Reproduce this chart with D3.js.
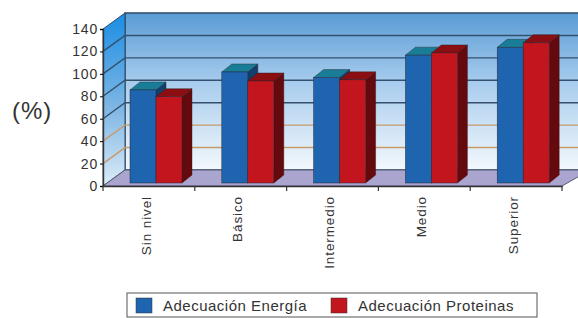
<!DOCTYPE html>
<html>
<head>
<meta charset="utf-8">
<script src="https://cdn.jsdelivr.net/npm/d3@7"></script>
<style>
  body { margin: 0; background: #fff; }
  svg { display: block; font-family: Arial, "Liberation Sans", sans-serif; }
</style>
</head>
<body>
<svg width="578" height="318"></svg>
<script>
const categories = ['Sin nivel', 'Básico', 'Intermedio', 'Medio', 'Superior'];
const series = ['Adecuación Energía', 'Adecuación Proteinas'];
const energia = [83, 99, 94, 114, 121];
const proteinas = [77, 91, 92, 116, 125];
const yTicks = [0, 20, 40, 60, 80, 100, 120, 140];

const svg = d3.select('svg');

// front plane scales, depth is an offset (dx, dy)
const x = d3.scaleBand().domain(categories).range([103, 562]);
const y = d3.scaleLinear().domain([0, 140]).range([186, 29]);
const depth = { dx: 22, dy: -16 };
const barOff = { dx: 0, dy: -3 };
const barDepth = { dx: 10, dy: -8 };
const xs = d3.scaleBand().domain(series).range([27, 79]);

const defs = svg.append('defs');
const backGrad = defs.append('linearGradient').attr('id', 'back').attr('x1', 0).attr('y1', 0).attr('x2', 0).attr('y2', 1);
backGrad.append('stop').attr('offset', '0%').attr('stop-color', '#5a9cd6');
backGrad.append('stop').attr('offset', '45%').attr('stop-color', '#a9cdee');
backGrad.append('stop').attr('offset', '100%').attr('stop-color', '#f3f8fc');
const sideGrad = defs.append('linearGradient').attr('id', 'side').attr('x1', 0).attr('y1', 0).attr('x2', 0).attr('y2', 1);
sideGrad.append('stop').attr('offset', '0%').attr('stop-color', '#1a8ee4');
sideGrad.append('stop').attr('offset', '55%').attr('stop-color', '#7fb6e4');
sideGrad.append('stop').attr('offset', '100%').attr('stop-color', '#dcecf8');

const x0 = x.range()[0], x1 = x.range()[1];
const W = 590;

// back wall
svg.append('rect')
  .attr('x', x0 + depth.dx).attr('y', y(140) + depth.dy)
  .attr('width', W - x0 - depth.dx).attr('height', y(0) - y(140))
  .attr('fill', 'url(#back)').attr('stroke', '#2e4a66').attr('stroke-width', 1.5);

// left wall
svg.append('path')
  .attr('d', `M${x0},${y(0)} L${x0},${y(140)} L${x0 + depth.dx},${y(140) + depth.dy} L${x0 + depth.dx},${y(0) + depth.dy} Z`)
  .attr('fill', 'url(#side)').attr('stroke', '#2e4a66').attr('stroke-width', 1);

// floor
svg.append('path')
  .attr('d', `M${x0},${y(0)} L${x0 + depth.dx},${y(0) + depth.dy} L${W},${y(0) + depth.dy} L${x1},${y(0)} Z`)
  .attr('fill', '#aaa5cf').attr('stroke', '#555a70').attr('stroke-width', 1);

// grid lines on walls
const gridColor = v => (v === 20 || v === 40 ? '#c89a6a' : '#34506c');
svg.append('g').selectAll('path')
  .data(yTicks.filter(v => v > 0 && v < 140))
  .join('path')
  .attr('d', v => `M${x0},${y(v)} L${x0 + depth.dx},${y(v) + depth.dy} L${W},${y(v) + depth.dy}`)
  .attr('fill', 'none')
  .attr('stroke', gridColor)
  .attr('stroke-width', 1.4);

// bars
const colors = {
  'Adecuación Energía': { front: '#1f64ae', top: '#1a7d98', side: '#123f6e' },
  'Adecuación Proteinas': { front: '#c3151d', top: '#8a0e12', side: '#640a0e' },
};
const rows = [];
categories.forEach((c, i) => {
  rows.push({ cat: c, s: series[0], v: energia[i] });
  rows.push({ cat: c, s: series[1], v: proteinas[i] });
});
const bars = svg.append('g').selectAll('g').data(rows).join('g');
const bx = d => x(d.cat) + xs(d.s) + barOff.dx;
const by0 = () => y(0) + barOff.dy;
const by1 = d => y(d.v) + barOff.dy;
const bw = xs.bandwidth();
bars.append('path')
  .attr('d', d => `M${bx(d) + bw},${by0()} L${bx(d) + bw + barDepth.dx},${by0() + barDepth.dy} L${bx(d) + bw + barDepth.dx},${by1(d) + barDepth.dy} L${bx(d) + bw},${by1(d)} Z`)
  .attr('fill', d => colors[d.s].side).attr('stroke', '#3a0a0a').attr('stroke-width', 0.4);
bars.append('path')
  .attr('d', d => `M${bx(d)},${by1(d)} L${bx(d) + barDepth.dx},${by1(d) + barDepth.dy} L${bx(d) + bw + barDepth.dx},${by1(d) + barDepth.dy} L${bx(d) + bw},${by1(d)} Z`)
  .attr('fill', d => colors[d.s].top).attr('stroke', '#222').attr('stroke-width', 0.4);
bars.append('rect')
  .attr('x', bx).attr('y', by1)
  .attr('width', bw).attr('height', d => by0() - by1(d))
  .attr('fill', d => colors[d.s].front).attr('stroke', '#2a2a3a').attr('stroke-width', 0.5);

// axes
const yAxis = svg.append('g').attr('transform', `translate(${x0},0)`)
  .call(d3.axisLeft(y).tickValues(yTicks).tickSize(3).tickPadding(2));
yAxis.select('.domain').attr('stroke', '#333').attr('stroke-width', 1.4);
yAxis.selectAll('text').attr('font-size', 14).attr('letter-spacing', 0.8)
  .attr('fill', '#333').attr('font-family', 'Arial, sans-serif');

const xAxis = svg.append('g').attr('transform', `translate(0,${y(0)})`)
  .call(d3.axisBottom(x).tickSize(0).tickFormat(''));
xAxis.select('.domain').attr('stroke', '#333').attr('stroke-width', 1.4);
svg.append('g').selectAll('line')
  .data(categories.concat(['end']))
  .join('line')
  .attr('x1', (d, i) => i < categories.length ? x(d) : x1)
  .attr('x2', (d, i) => i < categories.length ? x(d) : x1)
  .attr('y1', y(0)).attr('y2', y(0) + 5)
  .attr('stroke', '#333').attr('stroke-width', 1.2);

svg.append('g').selectAll('text')
  .data(categories)
  .join('text')
  .attr('transform', d => `translate(${x(d) + x.bandwidth() / 2 - 3},196) rotate(-90)`)
  .attr('text-anchor', 'end')
  .attr('dy', '0.35em')
  .attr('font-size', 13.5)
  .attr('letter-spacing', 0.9)
  .attr('fill', '#333')
  .text(d => d);

svg.append('text')
  .attr('x', 12).attr('y', 119)
  .attr('font-size', 24)
  .attr('letter-spacing', 1)
  .attr('fill', '#333')
  .text('(%)');

// legend
const lg = svg.append('g');
lg.append('rect').attr('x', 127).attr('y', 293).attr('width', 410).attr('height', 24)
  .attr('fill', '#fff').attr('stroke', '#555').attr('stroke-width', 1);
const legendX = [136, 331];
series.forEach((s, i) => {
  lg.append('rect').attr('x', legendX[i]).attr('y', 298).attr('width', 16).attr('height', 15)
    .attr('fill', colors[s].front).attr('stroke', '#333').attr('stroke-width', 0.5);
  lg.append('text').attr('x', legendX[i] + 27).attr('y', 311)
    .attr('font-size', 15).attr('letter-spacing', 0.5).attr('fill', '#333').text(s);
});
</script>
</body>
</html>
